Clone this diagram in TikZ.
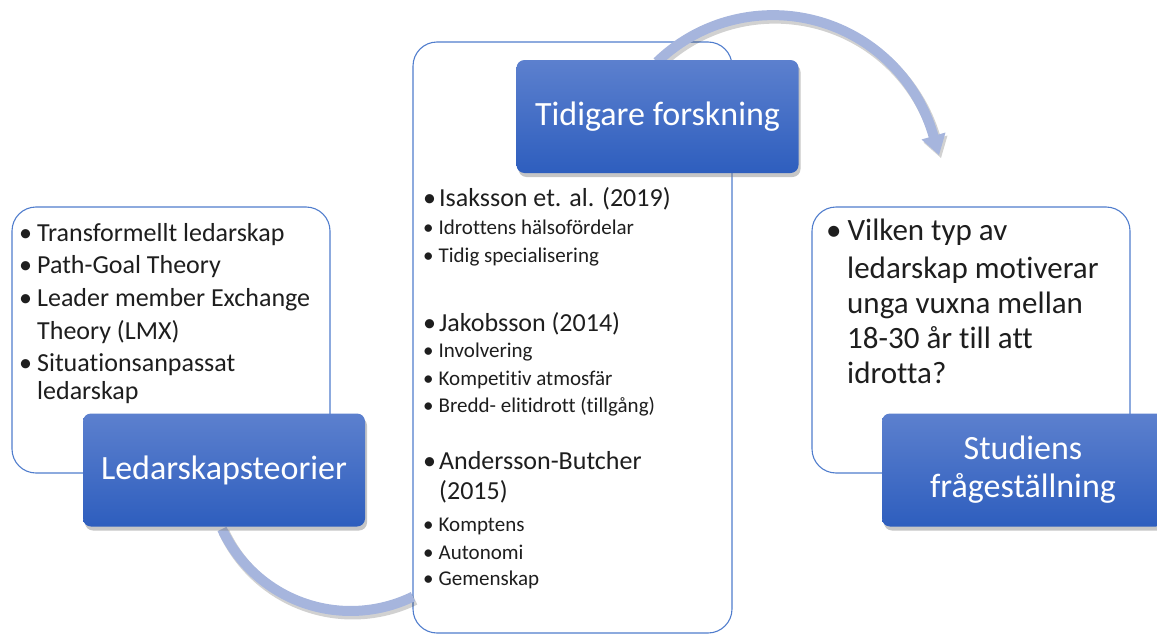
\documentclass[tikz,border=0pt]{standalone}
\usepackage{fontspec}
\setmainfont{Carlito}[Ligatures=NoCommon]
\usetikzlibrary{shadows}
\definecolor{boxline}{RGB}{80,125,205}
\definecolor{btop}{RGB}{92,128,206}
\definecolor{bbot}{RGB}{46,94,190}
\definecolor{arrowcol}{RGB}{166,181,221}
\definecolor{bodytext}{RGB}{30,30,30}
\newcommand{\bu}[1]{•\hspace{#1}}
\begin{document}
\begin{tikzpicture}[x=1pt,y=-1pt,
  panel/.style={draw=boxline,line width=1.1pt,fill=white,rounded corners=24pt,inner sep=0pt},
  label/.style={rounded corners=8pt,top color=btop,bottom color=bbot,text=white,align=center,inner sep=0pt,minimum width=282pt,minimum height=113pt,font=\fontsize{34}{38}\selectfont,drop shadow={shadow xshift=2pt,shadow yshift=-4pt,opacity=0.45}},
  bigitem/.style={anchor=base west,inner sep=0pt,text=bodytext,font=\fontsize{26}{30}\selectfont},
  smallitem/.style={anchor=base west,inner sep=0pt,text=bodytext,font=\fontsize{21}{25}\selectfont},
  rightitem/.style={anchor=base west,inner sep=0pt,text=bodytext,font=\fontsize{31}{36}\selectfont},
  flow/.style={draw=arrowcol,line width=10pt},
  flowshadow/.style={draw=black,draw opacity=0.18,line width=11pt},
  headshadow/.style={fill=black,fill opacity=0.18},
  head/.style={fill=arrowcol},
]
\useasboundingbox (0,0) rectangle (1157,637);
% panels
\node[panel,minimum width=318pt,minimum height=266pt] (leftpanel) at (171,340) {};
\node[panel,minimum width=319pt,minimum height=591pt] (midpanel) at (572.5,337.5) {};
\node[panel,minimum width=318pt,minimum height=266pt] (rightpanel) at (971,340) {};
% connectors
\coordinate (topstart) at (657,62);
\coordinate (botstart) at (222,529);
\coordinate (tip) at (939,155);
\coordinate (hb1) at (945.5,132.5);
\coordinate (hb2) at (921.5,139.5);
\draw[flowshadow] ([shift={(2,3)}]topstart) arc[start angle=-134,end angle=-15,radius=167];
\fill[headshadow] ([shift={(2,3)}]hb1) -- ([shift={(2,3)}]tip) -- ([shift={(2,3)}]hb2) -- cycle;
\draw[flow] (topstart) arc[start angle=-134,end angle=-15,radius=167];
\fill[head] (hb1) -- (tip) -- (hb2) -- cycle;
\draw[flowshadow] ([shift={(2,3)}]botstart) arc[start angle=155,end angle=64,radius=142];
\draw[flow] (botstart) arc[start angle=155,end angle=64,radius=142];
% labels
\node[label] (ledarskap) at (224,470) {Ledarskapsteorier};
\node[label] (tidigare) at (657.5,116.5) {Tidigare forskning};
\node[label] (studiens) at (1023,470) {Studiens\\frågeställning};
% left texts
\node[bigitem] (l1) at (19,241) {\bu{5pt}Transformellt ledarskap};
\node[bigitem] (l2) at (19,273) {\bu{5pt}Path-Goal Theory};
\node[bigitem] (l3) at (19,306) {\bu{5pt}Leader member Exchange};
\node[bigitem] (l4) at (37,339) {Theory (LMX)};
\node[bigitem] (l5) at (19,371) {\bu{5pt}Situationsanpassat};
\node[bigitem] (l6) at (37,399) {ledarskap};
% middle texts
\node[bigitem] (m1) at (423,206) {\bu{3pt}Isaksson et. al. (2019)};
\node[smallitem] (m2) at (423,234) {\bu{5pt}Idrottens hälsofördelar};
\node[smallitem] (m3) at (423,262) {\bu{5pt}Tidig specialisering};
\node[bigitem] (m4) at (423,331) {\bu{3pt}Jakobsson (2014)};
\node[smallitem] (m5) at (423,357) {\bu{5pt}Involvering};
\node[smallitem] (m6) at (423,385) {\bu{5pt}Kompetitiv atmosfär};
\node[smallitem] (m7) at (423,412) {\bu{5pt}Bredd- elitidrott (tillgång)};
\node[bigitem] (m8) at (423,469) {\bu{3pt}Andersson-Butcher};
\node[bigitem] (m9) at (439,499) {(2015)};
\node[smallitem] (m10) at (423,531) {\bu{5pt}Komptens};
\node[smallitem] (m11) at (423,559) {\bu{5pt}Autonomi};
\node[smallitem] (m12) at (423,585) {\bu{5pt}Gemenskap};
% right texts
\node[rightitem] (r1) at (826,240) {\bu{6pt}Vilken typ av};
\node[rightitem] (r2) at (847,278) {ledarskap motiverar};
\node[rightitem] (r3) at (847,313) {unga vuxna mellan};
\node[rightitem] (r4) at (847,348) {18-30 år till att};
\node[rightitem] (r5) at (847,383) {idrotta?};
\end{tikzpicture}
\end{document}
